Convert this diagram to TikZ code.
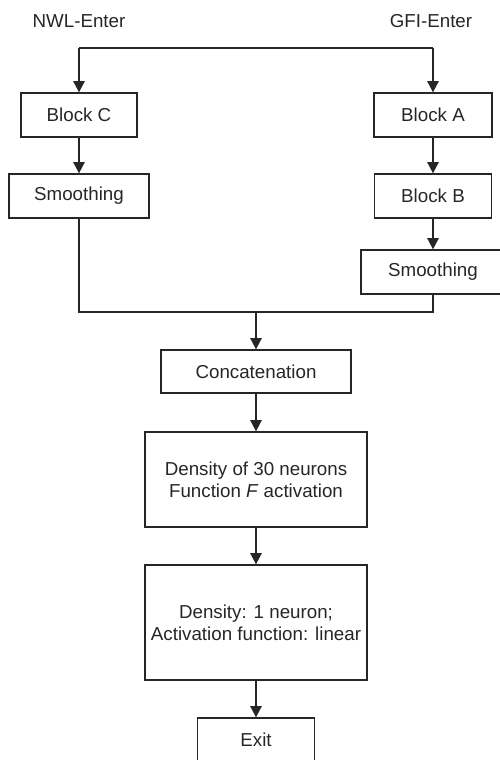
\documentclass[tikz,border=0pt]{standalone}
\usepackage{fontspec}
\setmainfont{Liberation Sans}
\usetikzlibrary{arrows.meta,positioning}

\begin{document}
\begin{tikzpicture}[x=0.03cm,y=-0.03cm,font=\fontsize{16}{18.5}\selectfont,color=black!85,line width=1.6pt,
	every node/.style={draw,line width=1.1pt,inner sep=0pt,align=center},
	arr/.style={-{Triangle[length=0.34cm,width=0.34cm]}}]
	\useasboundingbox (0,0) rectangle (499,760);

	\node (nwl) at (79,21) [draw=none] {NWL-Enter};
	\node (gfi) at (431,21) [draw=none] {GFI-Enter};

	\node (blockC) at (79,115) [minimum width=3.48cm,minimum height=1.32cm] {Block C};
	\node (smoothL) at (79,196) [minimum width=4.2cm,minimum height=1.32cm] {Smoothing};
	\node (blockA) at (433,115) [minimum width=3.54cm,minimum height=1.32cm] {Block A};
	\node (blockB) at (433,196) [minimum width=3.51cm,minimum height=1.32cm] {Block B};
	\node (smoothR) at (433,272) [minimum width=4.32cm,minimum height=1.32cm] {Smoothing};

	\node (concat) at (256,371.5) [minimum width=5.7cm,minimum height=1.29cm] {Concatenation};
	\node (dens30) at (256,479.5) [minimum width=6.66cm,minimum height=2.85cm] {Density of 30 neurons\\Function \textit{F} activation};
	\node (dens1) at (256,622.5) [minimum width=6.66cm,minimum height=3.45cm] {Density: 1 neuron;\\Activation function: linear};
	\node (exit) at (256,740) [minimum width=3.51cm,minimum height=1.32cm] {Exit};

	\coordinate (topL) at (blockC |- 0,48);
	\coordinate (topR) at (blockA |- 0,48);
	\coordinate (join) at (concat |- 0,312);

	\draw (topL) -- (topR);
	\draw[arr] (topL) -- (blockC);
	\draw[arr] (topR) -- (blockA);
	\draw[arr] (blockC) -- (smoothL);
	\draw[arr] (blockA) -- (blockB);
	\draw[arr] (blockB) -- (smoothR);
	\draw (smoothL) |- (join) -| (smoothR);
	\draw[arr] (join) -- (concat);
	\draw[arr] (concat) -- (dens30);
	\draw[arr] (dens30) -- (dens1);
	\draw[arr] (dens1) -- (exit);
\end{tikzpicture}
\end{document}
